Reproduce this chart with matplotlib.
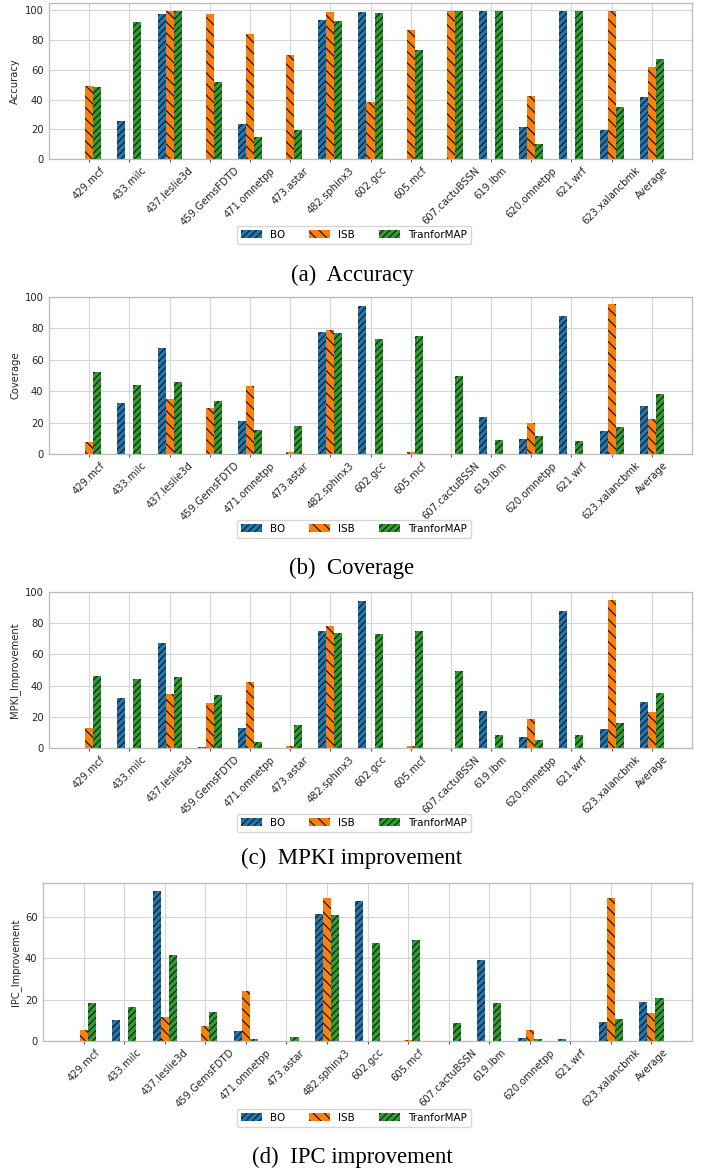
import matplotlib
matplotlib.use('Agg')
import matplotlib.pyplot as plt
from matplotlib.ticker import MultipleLocator
import numpy as np

benchmarks = ['429.mcf', '433.milc', '437.leslie3d', '459.GemsFDTD', '471.omnetpp',
              '473.astar', '482.sphinx3', '602.gcc', '605.mcf', '607.cactuBSSN',
              '619.lbm', '620.omnetpp', '621.wrf', '623.xalancbmk', 'Average']
methods = ['BO', 'ISB', 'TranforMAP']

# (a) accuracy
acc_bo = [0, 25.6, 97.3, 0, 23.6, 0, 93.5, 99.1, 0, 0, 99.8, 21.8, 99.8, 19.4, 41.6]
acc_isb = [49.0, 0, 99.8, 97.5, 84.2, 69.9, 98.7, 38.3, 86.9, 99.8, 0, 42.3, 0, 99.8, 62.1]
acc_tm = [48.5, 92.4, 99.5, 52.1, 14.9, 19.4, 93.1, 98.2, 73.1, 99.8, 99.8, 10.2, 99.8, 34.7, 67.0]

# (b) coverage
cov_bo = [0, 32.4, 67.4, 0, 21.0, 0, 77.5, 94.5, 0, 0, 23.6, 9.8, 87.9, 14.6, 30.6]
cov_isb = [7.6, 0, 35.0, 29.0, 43.4, 1.5, 79.0, 0, 1.3, 0, 0, 19.7, 0, 95.3, 22.3]
cov_tm = [52.1, 44.1, 45.8, 33.7, 15.0, 17.8, 76.9, 73.2, 75.4, 49.7, 8.7, 11.7, 8.3, 17.2, 38.0]

# (c) MPKI improvement
mpki_bo = [0, 32.3, 67.2, 0.4, 13.0, 0, 74.9, 94.3, 0, 0, 23.6, 7.2, 87.7, 12.3, 29.6]
mpki_isb = [12.6, 0, 34.7, 28.9, 42.3, 1.1, 78.5, 0, 1.5, 0, 0, 18.7, 0, 95.1, 22.8]
mpki_tm = [46.4, 44.0, 45.5, 33.8, 4.0, 14.7, 73.8, 73.2, 75.3, 49.4, 8.5, 5.3, 8.3, 16.2, 35.5]

# (d) IPC improvement
ipc_bo = [0, 10.0, 72.8, 0, 4.8, 0, 61.4, 67.7, 0, 0, 39.2, 1.3, 1.0, 9.0, 19.0]
ipc_isb = [5.1, 0, 11.7, 7.4, 24.3, 0, 69.1, 0, 0.5, 0, 0, 5.5, 0, 69.0, 13.7]
ipc_tm = [18.3, 16.4, 41.6, 14.0, 1.0, 1.9, 60.9, 47.3, 48.7, 8.7, 18.5, 0.8, 0, 10.5, 20.7]

panels = [
    ('Accuracy', '(a)  Accuracy', [acc_bo, acc_isb, acc_tm], (0, 105)),
    ('Coverage', '(b)  Coverage', [cov_bo, cov_isb, cov_tm], (0, 100)),
    ('MPKI_Improvement', '(c)  MPKI improvement', [mpki_bo, mpki_isb, mpki_tm], (0, 100)),
    ('IPC_Improvement', '(d)  IPC improvement', [ipc_bo, ipc_isb, ipc_tm], None),
]

plt.rcParams['font.family'] = ['DejaVu Sans']
plt.rcParams['hatch.linewidth'] = 0.9

colors = ['#1f77b4', '#ff7f0e', '#2ca02c']
hatches = ['/////', '\\\\\\', '/////']

W, H = 710, 1174
fig = plt.figure(figsize=(W / 100, H / 100), dpi=100)

# axes boxes in pixels: left, right, top, bottom
boxes = [(49, 692, 3, 159), (49, 692, 297, 454), (49, 692, 592, 748), (43, 692, 883, 1041)]
legend_y = [235, 529, 823, 1118]
caption_y = [275, 568, 858, 1157]

x = np.arange(len(benchmarks))
width = 0.2
fs = 7.2

for i, (ylabel, caption, series, ylim) in enumerate(panels):
    l, r, t, b = boxes[i]
    ax = fig.add_axes([l / W, 1 - b / H, (r - l) / W, (b - t) / H])
    ax.set_axisbelow(True)
    ax.grid(True, color='#d6d6d6', linewidth=0.8)
    handles = []
    for j, vals in enumerate(series):
        bars = ax.bar(x + (j - 1) * width, vals, width, color=colors[j],
                      hatch=hatches[j], edgecolor='#1a1a1a', linewidth=0,
                      label=methods[j])
        handles.append(bars)
    ax.set_xlim(-1, 15)
    if ylim is not None:
        ax.set_ylim(*ylim)
    ax.yaxis.set_major_locator(MultipleLocator(20))
    ax.set_xticks(x)
    ax.set_xticklabels(benchmarks, rotation=45, ha='center', fontsize=fs, color='#262626')
    ax.tick_params(axis='y', labelsize=fs, colors='#262626', length=0, pad=4)
    ax.tick_params(axis='x', length=2.5, color='#555555', pad=2)
    ax.set_ylabel(ylabel, fontsize=fs, color='#262626', labelpad=3)
    for s in ax.spines.values():
        s.set_color('#bbbbbb')
        s.set_linewidth(0.9)
    fig.legend(handles=handles, labels=methods, loc='center',
               bbox_to_anchor=(354 / W, 1 - legend_y[i] / H), ncol=3,
               fontsize=7.5, frameon=True, handlelength=2.0, handleheight=0.8,
               columnspacing=2.3, borderpad=0.35, edgecolor='#cccccc',
               fancybox=True)
    fig.text(352 / W, 1 - caption_y[i] / H, caption, ha='center', va='center',
             fontsize=16.4, family='Liberation Serif', color='black')

fig.savefig('out.png', dpi=100)
